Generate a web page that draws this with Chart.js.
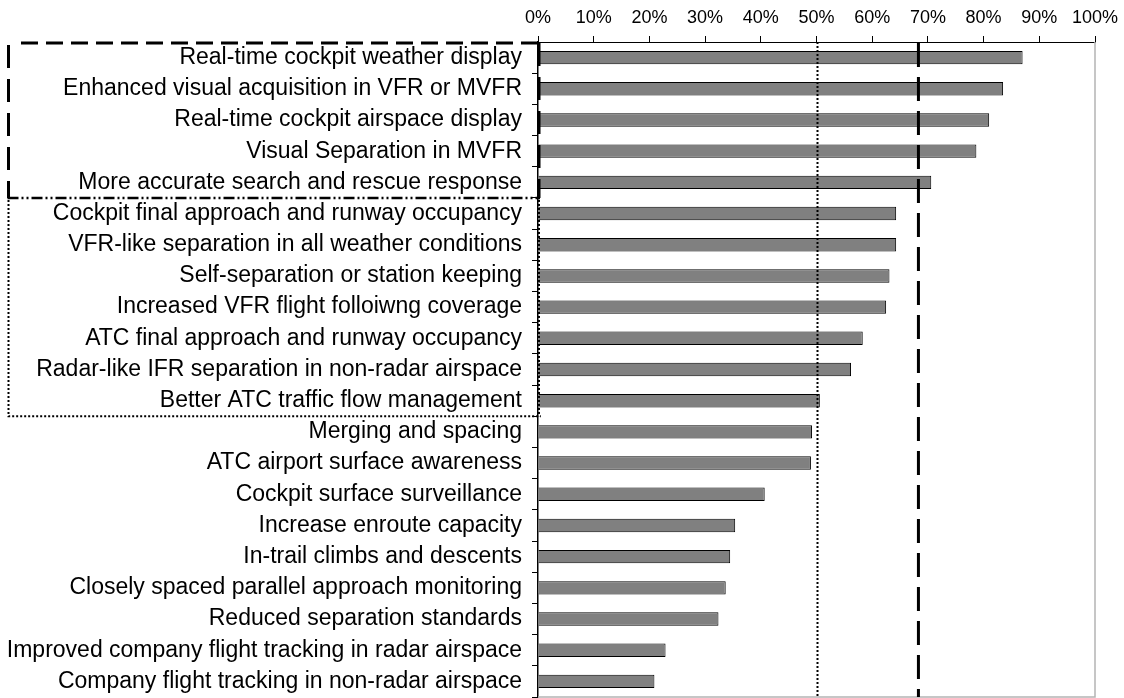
<!DOCTYPE html>
<html>
<head>
<meta charset="utf-8">
<script src="https://cdn.jsdelivr.net/npm/chart.js@4/dist/chart.umd.min.js"></script>
<style>
  html, body { margin: 0; padding: 0; background: #ffffff; }
  #c { display: block; }
</style>
</head>
<body>
<canvas id="c" width="1124" height="698"></canvas>
<script>
// ---- Data ----
const categories = [
  "Real-time cockpit weather display",
  "Enhanced visual acquisition in VFR or MVFR",
  "Real-time cockpit airspace display",
  "Visual Separation in MVFR",
  "More accurate search and rescue response",
  "Cockpit final approach and runway occupancy",
  "VFR-like separation in all weather conditions",
  "Self-separation or station keeping",
  "Increased VFR flight folloiwng coverage",
  "ATC final approach and runway occupancy",
  "Radar-like IFR separation in non-radar airspace",
  "Better ATC traffic flow management",
  "Merging and spacing",
  "ATC airport surface awareness",
  "Cockpit surface surveillance",
  "Increase enroute capacity",
  "In-trail climbs and descents",
  "Closely spaced parallel approach monitoring",
  "Reduced separation standards",
  "Improved company flight tracking in radar airspace",
  "Company flight tracking in non-radar airspace"
];
const values = [87.0, 83.5, 81.0, 78.7, 70.6, 64.3, 64.3, 63.1, 62.5, 58.3, 56.2, 50.6, 49.2, 49.0, 40.7, 35.4, 34.5, 33.7, 32.4, 22.9, 20.9];
const tickValues = [0, 10, 20, 30, 40, 50, 60, 70, 80, 90, 100];
const tickLabels = ["0%", "10%", "20%", "30%", "40%", "50%", "60%", "70%", "80%", "90%", "100%"];
const dottedLineValue = [50];
const dashedLineValue = [68.3];
const groupBreaks = [5, 12]; // category index where the dashed group ends, and where the dotted group ends

// ---- Overlay plugin ----
const overlay = {
  id: 'overlay',
  afterDatasetsDraw(chart) {
    const ctx = chart.ctx, xs = chart.scales.x, ys = chart.scales.y;
    ctx.save();
    // grey right & bottom border
    ctx.strokeStyle = '#b4b4b4';
    ctx.lineWidth = 1.5;
    ctx.setLineDash([]);
    ctx.beginPath();
    ctx.moveTo(xs.right, ys.top);
    ctx.lineTo(xs.right, ys.bottom);
    ctx.lineTo(xs.left, ys.bottom);
    ctx.stroke();
    // dotted reference line
    dottedLineValue.forEach(v => {
      const px = Math.round(xs.getPixelForValue(v)) + 0.5;
      ctx.strokeStyle = '#000';
      ctx.lineWidth = 2;
      ctx.setLineDash([2, 2]);
      ctx.beginPath();
      ctx.moveTo(px, ys.top);
      ctx.lineTo(px, ys.bottom);
      ctx.stroke();
    });
    // dashed reference line
    dashedLineValue.forEach(v => {
      const px = xs.getPixelForValue(v);
      ctx.strokeStyle = '#000';
      ctx.lineWidth = 3;
      ctx.setLineDash([24, 10]);
      ctx.beginPath();
      ctx.moveTo(px, ys.top + 1);
      ctx.lineTo(px, ys.bottom);
      ctx.stroke();
    });
    ctx.restore();
  },
  afterDraw(chart) {
    const ctx = chart.ctx, xs = chart.scales.x, ys = chart.scales.y;
    const boundary = (i) => {
      if (i <= 0) return ys.top;
      if (i >= categories.length) return ys.bottom;
      return (ys.getPixelForValue(i - 1) + ys.getPixelForValue(i)) / 2;
    };
    const left = 8.5;
    const right = xs.left;
    const top = ys.top + 1;
    const b1 = boundary(groupBreaks[0]);
    const b2 = boundary(groupBreaks[1]);
    ctx.save();
    ctx.strokeStyle = '#000';
    // dashed box (top group)
    ctx.lineWidth = 3;
    ctx.setLineDash([17, 8]);
    ctx.beginPath();
    ctx.moveTo(right, top);
    ctx.lineTo(left + 8, top);
    ctx.stroke();
    ctx.setLineDash([23, 11]);
    ctx.beginPath();
    ctx.moveTo(left, top + 2);
    ctx.lineTo(left, b1);
    ctx.stroke();
    ctx.beginPath();
    ctx.moveTo(right + 1, top);
    ctx.lineTo(right + 1, b1);
    ctx.stroke();
    // dash-dot-dot divider
    ctx.lineWidth = 2.5;
    ctx.setLineDash([11, 3, 2, 3, 2, 3]);
    ctx.beginPath();
    ctx.moveTo(left - 1, b1);
    ctx.lineTo(right + 2, b1);
    ctx.stroke();
    // dotted box (second group)
    ctx.lineWidth = 2;
    ctx.setLineDash([2, 2]);
    ctx.beginPath();
    ctx.moveTo(left, b1 + 2);
    ctx.lineTo(left, b2);
    ctx.lineTo(right + 3, b2);
    ctx.stroke();
    ctx.beginPath();
    ctx.moveTo(right + 1, b1 + 2);
    ctx.lineTo(right + 1, b2);
    ctx.stroke();
    ctx.restore();
  }
};

new Chart(document.getElementById('c'), {
  type: 'bar',
  data: {
    labels: categories,
    datasets: [{
      data: values,
      backgroundColor: '#808080',
      borderColor: '#000000',
      borderWidth: 1,
      barPercentage: 0.43,
      categoryPercentage: 1.0
    }]
  },
  options: {
    indexAxis: 'y',
    responsive: false,
    animation: false,
    layout: { padding: { left: 0, right: 29, top: 0, bottom: 1 } },
    plugins: { legend: { display: false }, tooltip: { enabled: false } },
    scales: {
      x: {
        type: 'linear',
        position: 'top',
        min: 0,
        max: 100,
        afterBuildTicks: (s) => { s.ticks = tickValues.map(v => ({ value: v })); },
        afterFit: (s) => { s.height = 42; s.paddingLeft = 0; s.paddingRight = 0; },
        ticks: {
          callback: (v) => tickLabels[tickValues.indexOf(v)],
          color: '#000',
          font: { family: 'Liberation Sans, Arial, sans-serif', size: 18 },
          padding: 7,
          maxRotation: 0,
          autoSkip: false
        },
        grid: { drawOnChartArea: false, drawTicks: true, tickLength: 6, color: '#000', lineWidth: 1 },
        border: { display: true, color: '#000', width: 1 }
      },
      y: {
        type: 'category',
        afterFit: (s) => { s.width = 538; s.paddingTop = 0; s.paddingBottom = 0; },
        ticks: {
          color: '#000',
          font: { family: 'Liberation Sans, Arial, sans-serif', size: 23 },
          padding: 10,
          autoSkip: false
        },
        grid: { offset: true, drawOnChartArea: false, drawTicks: true, tickLength: 6, color: '#000', lineWidth: 1 },
        border: { display: true, color: '#000', width: 1.5 }
      }
    }
  },
  plugins: [overlay]
});
</script>
</body>
</html>
